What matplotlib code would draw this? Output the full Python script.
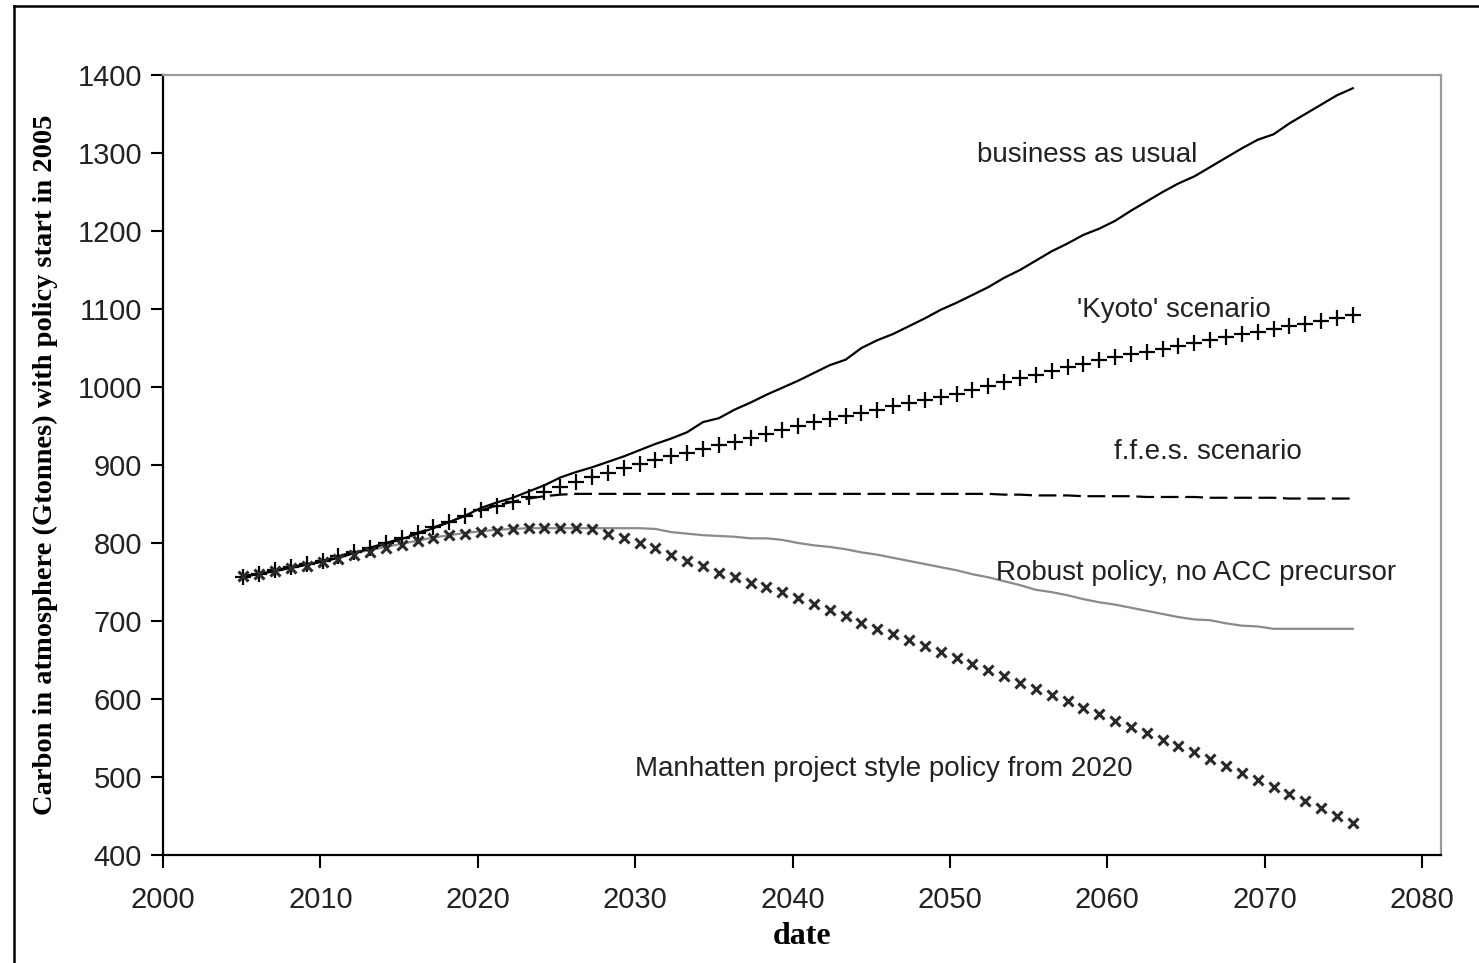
import numpy as np
import matplotlib
matplotlib.use("Agg")
import matplotlib.pyplot as plt
from matplotlib.lines import Line2D

# ---- data ----
years = np.linspace(2005.1, 2075.6, 71)

business_as_usual = [
    758, 760, 764, 768, 772, 776, 781, 787, 793, 799,
    805, 812, 819, 827, 835, 845, 852, 858, 866, 874,
    884, 891, 897, 904, 911, 919, 927, 934, 942, 955,
    960, 971, 980, 990, 999, 1008, 1018, 1028, 1035, 1050,
    1060, 1068, 1078, 1088, 1099, 1108, 1118, 1128, 1140, 1150,
    1162, 1174, 1184, 1195, 1203, 1213, 1226, 1238, 1250, 1261,
    1270, 1282, 1294, 1306, 1317, 1324, 1338, 1350, 1362, 1374,
    1383]

kyoto = [
    757, 760, 765, 769, 773, 777, 783, 789, 794, 800,
    806, 813, 820, 827, 835, 842, 848, 853, 859, 866,
    872, 878, 884, 890, 896, 901, 906, 911, 916, 921,
    925, 930, 935, 940, 945, 950, 955, 959, 963, 967,
    971, 975, 979, 983, 987, 991, 996, 1001, 1006, 1011,
    1016, 1021, 1026, 1030, 1034, 1038, 1042, 1045, 1049, 1053,
    1056, 1060, 1064, 1068, 1071, 1074, 1078, 1081, 1085, 1089,
    1092]

ffes = [
    757, 760, 765, 769, 773, 777, 783, 789, 794, 800,
    806, 813, 820, 827, 835, 842, 848, 853, 857, 860,
    862, 863, 863, 863, 863, 863, 863, 863, 863, 863,
    863, 863, 863, 863, 863, 863, 863, 863, 863, 863,
    863, 863, 863, 863, 863, 863, 863, 863, 862, 862,
    861, 861, 861, 860, 860, 860, 860, 859, 859, 859,
    859, 858, 858, 858, 858, 858, 857, 857, 857, 857,
    857]

robust = [
    758, 761, 765, 769, 773, 777, 782, 787, 791, 795,
    799, 803, 807, 810, 813, 815, 817, 818, 819, 819,
    819, 819, 819, 819, 819, 819, 818, 814, 812, 810,
    809, 808, 806, 806, 804, 800, 797, 795, 792, 788,
    785, 781, 777, 773, 769, 765, 760, 756, 751, 746,
    740, 737, 733, 728, 724, 721, 717, 713, 709, 705,
    702, 701, 697, 694, 693, 690, 690, 690, 690, 690,
    690]

manhattan = [
    758, 760, 764, 768, 771, 775, 780, 785, 789, 794,
    798, 802, 806, 810, 812, 814, 816, 818, 819, 819,
    819, 819, 818, 812, 806, 800, 793, 785, 777, 770,
    762, 756, 749, 743, 737, 730, 722, 714, 706, 698,
    690, 683, 675, 668, 660, 653, 645, 637, 629, 621,
    613, 605, 597, 589, 581, 572, 564, 556, 548, 540,
    532, 523, 514, 505, 496, 487, 478, 469, 460, 450,
    441]

x_ticks = [2000, 2010, 2020, 2030, 2040, 2050, 2060, 2070, 2080]
y_ticks = [400, 500, 600, 700, 800, 900, 1000, 1100, 1200, 1300, 1400]

labels = {
    "bau": "business as usual",
    "kyoto": "'Kyoto' scenario",
    "ffes": "f.f.e.s. scenario",
    "robust": "Robust policy, no ACC precursor",
    "manhattan": "Manhatten project style policy from 2020",
}

# ---- figure ----
fig = plt.figure(figsize=(14.79, 9.63), dpi=100)
ax = fig.add_axes([163 / 1479, 108 / 963, (1441 - 163) / 1479, (855 - 75) / 963])

ax.plot(years, robust, color="#8a8a8a", lw=1.6, zorder=2)
ax.plot(years, ffes, color="black", lw=1.6, ls=(0, (8, 3)), zorder=3)
ax.plot(years, business_as_usual, color="black", lw=1.6, zorder=4)
ax.plot(years, kyoto, ls="none", marker="+", ms=12, mew=1.6, color="black", zorder=5)
ax.plot(years, manhattan, ls="none", marker="x", ms=7, mew=2.2, color="#2a2a2a", zorder=5)

ax.set_xlim(2000, 2081.2)
ax.set_ylim(400, 1400)
ax.set_xticks(x_ticks)
ax.set_yticks(y_ticks)

tick_font = dict(family="Liberation Sans", size=21)
ax.set_xticklabels([str(t) for t in x_ticks], **tick_font, color="#222222")
ax.set_yticklabels([str(t) for t in y_ticks], **tick_font, color="#222222")
ax.tick_params(direction="out", length=9, width=1.5)
ax.tick_params(axis="y", pad=6)
ax.tick_params(axis="x", pad=13)

for side in ("left", "bottom"):
    ax.spines[side].set_linewidth(1.6)
    ax.spines[side].set_color("black")
for side in ("top", "right"):
    ax.spines[side].set_linewidth(1.6)
    ax.spines[side].set_color("#9a9a9a")

ax.set_xlabel("date", family="Liberation Serif", weight="bold", size=23, labelpad=6)
ax.set_ylabel("Carbon in atmosphere (Gtonnes) with policy start in 2005",
              family="Liberation Serif", weight="bold", size=20.5, labelpad=14)

ann = dict(family="Liberation Sans", size=20, color="#222222", va="center", ha="left")
ax.text(2051.7, 1297, labels["bau"], **ann)
ax.text(2058.1, 1099, labels["kyoto"], **ann)
ax.text(2060.4, 917, labels["ffes"], **ann)
ax.text(2052.9, 761, labels["robust"], **ann)
ax.text(2030.0, 510, labels["manhattan"], **ann)

# outer frame (cropped at right/bottom in the reference)
fig.add_artist(Line2D([14 / 1479, 14 / 1479], [0, 1 - 6 / 963], color="black", lw=1.8,
                      transform=fig.transFigure))
fig.add_artist(Line2D([14 / 1479, 1], [1 - 6 / 963, 1 - 6 / 963], color="black", lw=1.8,
                      transform=fig.transFigure))

fig.savefig("out.png", dpi=100)
